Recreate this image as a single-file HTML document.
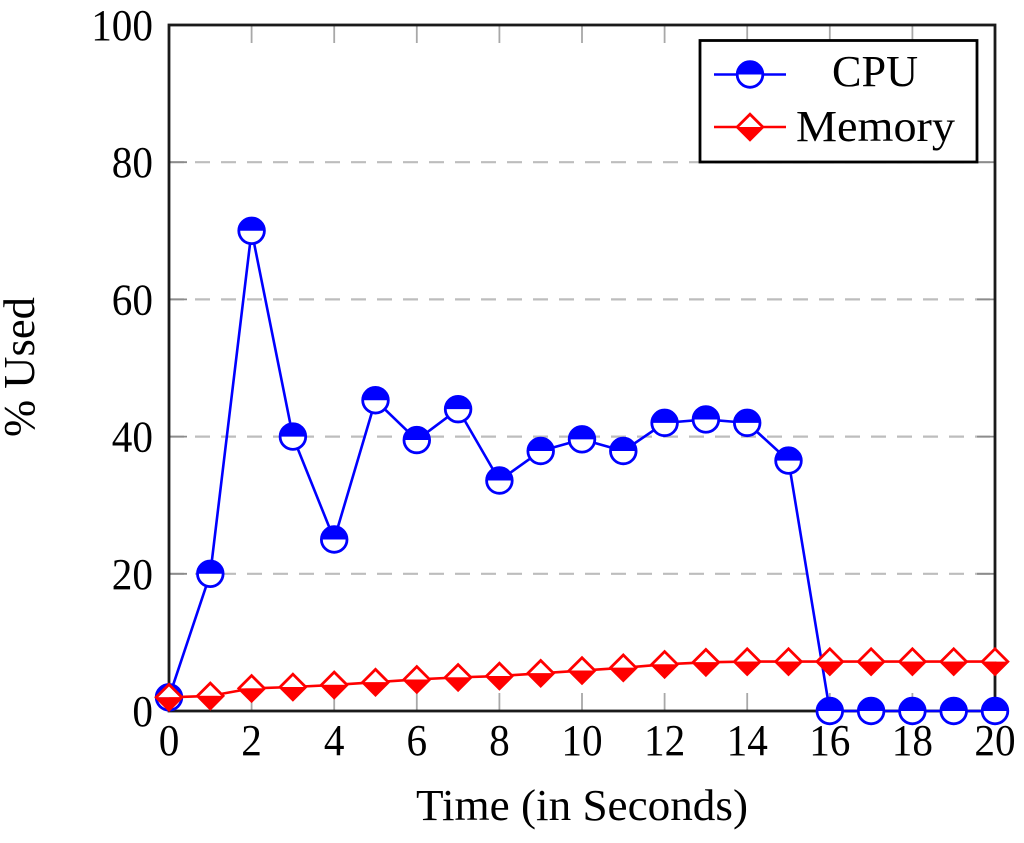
<!DOCTYPE html>
<html>
<head>
<meta charset="utf-8">
<title>CPU and Memory usage chart</title>
<style>
html,body{margin:0;padding:0;background:#fff;width:1024px;height:843px;overflow:hidden}
svg{display:block}
text{font-family:"Liberation Serif",serif;font-size:44px;fill:#000}
</style>
</head>
<body>
<svg id="chart" width="1024" height="843" viewBox="0 0 1024 843" xmlns="http://www.w3.org/2000/svg">
  <rect x="0" y="0" width="1024" height="843" fill="#fff"/>
  <g id="grid"></g>
  <g id="ticks"></g>
  <rect x="169" y="25" width="826" height="686" fill="none" stroke="#1a1a1a" stroke-width="2.8"/>
  <g id="labels"></g>
  <g id="series"></g>
  <g>
    <rect x="700" y="40.5" width="277" height="121.5" fill="#fff" stroke="#000" stroke-width="2.8"/>
    <g id="legend-cpu"></g>
    <g id="legend-mem"></g>
    <text x="832" y="86" textLength="86" lengthAdjust="spacingAndGlyphs">CPU</text>
    <text x="796" y="141" textLength="159" lengthAdjust="spacingAndGlyphs">Memory</text>
  </g>
  <text x="416" y="820" textLength="332" lengthAdjust="spacingAndGlyphs">Time (in Seconds)</text>
  <text transform="translate(34,437) rotate(-90)" textLength="140" lengthAdjust="spacingAndGlyphs">% Used</text>
</svg>
<script>
const times = [0,1,2,3,4,5,6,7,8,9,10,11,12,13,14,15,16,17,18,19,20];
const cpuValues = [2,20,70,40,25,45.3,39.5,44,33.6,37.9,39.6,37.9,42,42.5,42,36.5,0,0,0,0,0];
const memoryValues = [2,2.2,3.3,3.5,3.8,4.2,4.6,4.9,5.1,5.5,5.9,6.3,6.8,7.1,7.2,7.2,7.2,7.2,7.2,7.2,7.2];
const xTickLabels = [0,2,4,6,8,10,12,14,16,18,20];
const yTickLabels = [0,20,40,60,80,100];

const NS = 'http://www.w3.org/2000/svg';
const BLUE = '#0000ff', RED = '#ff0000';
const PLOT = {left:169, right:995, top:25, bottom:711};
function xScale(v){ return PLOT.left + (v - 0) / (20 - 0) * (PLOT.right - PLOT.left); }
function yScale(v){ return PLOT.bottom - (v - 0) / (100 - 0) * (PLOT.bottom - PLOT.top); }
function make(tag, parent, attrs, txt){
  const el = document.createElementNS(NS, tag);
  for (const k in attrs) el.setAttribute(k, attrs[k]);
  if (txt !== undefined) el.textContent = txt;
  parent.appendChild(el);
  return el;
}
const gridG = document.getElementById('grid');
const ticksG = document.getElementById('ticks');
const labelsG = document.getElementById('labels');
const seriesG = document.getElementById('series');

yTickLabels.forEach(function(v){
  const y = yScale(v);
  if (v !== 0 && v !== 100) {
    const g = make('line', gridG, {x1:PLOT.left, x2:PLOT.right, y1:y, y2:y, stroke:'#bdbdbd', 'stroke-width':2.2, 'stroke-dasharray':'15 11'});
    
    
    const t1 = make('line', ticksG, {x1:PLOT.left, x2:PLOT.left + 18, y1:y, y2:y, stroke:'#8c8c8c', 'stroke-width':1.8});
    
    
    const t2 = make('line', ticksG, {x1:PLOT.right - 18, x2:PLOT.right, y1:y, y2:y, stroke:'#8c8c8c', 'stroke-width':1.8});
    
    
  }
  const str = String(v);
  const l = make('text', labelsG, {x:153, y:y + 15, 'text-anchor':'end', textLength:str.length * 20.6, lengthAdjust:'spacingAndGlyphs'}, str);
  
  
});

xTickLabels.forEach(function(v){
  const x = xScale(v);
  if (v !== 0 && v !== 20) {
    const t1 = make('line', ticksG, {x1:x, x2:x, y1:PLOT.top, y2:PLOT.top + 18, stroke:'#a8a8a8', 'stroke-width':1.8});
    
    
    const t2 = make('line', ticksG, {x1:x, x2:x, y1:PLOT.bottom - 18, y2:PLOT.bottom, stroke:'#a8a8a8', 'stroke-width':1.8});
    
    
  }
  const str = String(v);
  const l = make('text', labelsG, {x:x, y:755, 'text-anchor':'middle', textLength:str.length * 20.6, lengthAdjust:'spacingAndGlyphs'}, str);
  
  
});

function halfCircle(parent, cx, cy){
  const r = 12.8;
  const g = make('g', parent, {});
  make('circle', g, {cx:cx, cy:cy, r:r, fill:'#fff', stroke:'none'});
  make('path', g, {d:'M' + (cx - r) + ' ' + cy + ' A' + r + ' ' + r + ' 0 0 1 ' + (cx + r) + ' ' + cy + ' Z', fill:BLUE});
  make('circle', g, {cx:cx, cy:cy, r:r, fill:'none', stroke:BLUE, 'stroke-width':2.8});
  return g;
}
function halfDiamond(parent, cx, cy){
  const r = 12.8;
  const g = make('g', parent, {});
  make('path', g, {d:'M' + (cx - r) + ' ' + cy + ' L' + cx + ' ' + (cy - r) + ' L' + (cx + r) + ' ' + cy + ' Z', fill:'#fff'});
  make('path', g, {d:'M' + (cx - r) + ' ' + cy + ' L' + cx + ' ' + (cy + r) + ' L' + (cx + r) + ' ' + cy + ' Z', fill:RED});
  make('path', g, {d:'M' + (cx - r) + ' ' + cy + ' L' + cx + ' ' + (cy - r) + ' L' + (cx + r) + ' ' + cy + ' L' + cx + ' ' + (cy + r) + ' Z', fill:'none', stroke:RED, 'stroke-width':2.8, 'stroke-linejoin':'miter'});
  return g;
}

function drawSeries(name, values, color, marker){
  const points = times.map(function(t, i){ return xScale(t) + ',' + yScale(values[i]); }).join(' ');
  const line = make('polyline', seriesG, {points:points, fill:'none', stroke:color, 'stroke-width':2.6, 'stroke-linejoin':'round'});
  
  
  times.forEach(function(t, i){
    const m = marker(seriesG, xScale(t), yScale(values[i]));
    
    
  });
}
drawSeries('cpu', cpuValues, BLUE, halfCircle);
drawSeries('memory', memoryValues, RED, halfDiamond);

const legendCpu = document.getElementById('legend-cpu');
const legendMem = document.getElementById('legend-mem');
const cpuKeyLine = make('line', legendCpu, {x1:714, x2:786, y1:74.5, y2:74.5, stroke:BLUE, 'stroke-width':2.6});


const cpuKeyMarker = halfCircle(legendCpu, 750, 74.5);


const memKeyLine = make('line', legendMem, {x1:714, x2:786, y1:127, y2:127, stroke:RED, 'stroke-width':2.6});


const memKeyMarker = halfDiamond(legendMem, 750, 127);


</script>
</body>
</html>
